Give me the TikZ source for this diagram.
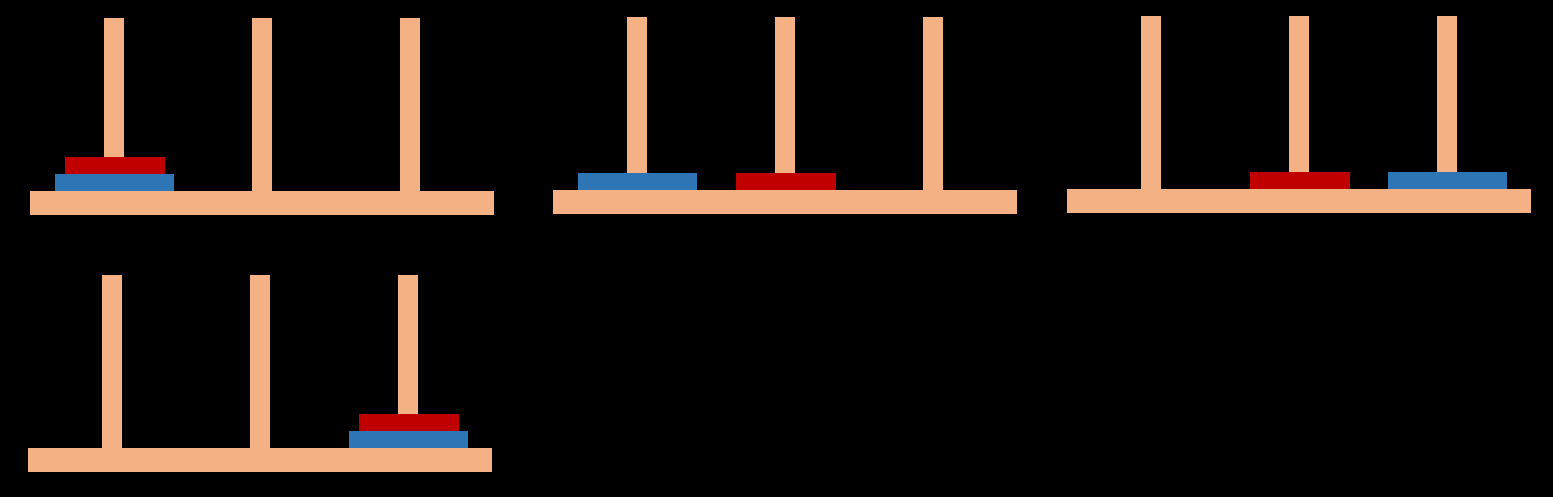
\documentclass[tikz,border=0pt]{standalone}
\definecolor{peach}{HTML}{F4B183}
\definecolor{diskred}{HTML}{C00000}
\definecolor{diskblue}{HTML}{2E75B6}
\tikzset{
  wood/.style={fill=peach},
  reddisk/.style={fill=diskred},
  bluedisk/.style={fill=diskblue}
}
\begin{document}
\begin{tikzpicture}[x=1pt,y=-1pt]
\fill[black] (0,0) rectangle (1553,497);
\useasboundingbox (0,0) rectangle (1553,497);
% Panel 1
\fill[wood] (104,18) rectangle (124,191);
\fill[wood] (252,18) rectangle (272,191);
\fill[wood] (400,18) rectangle (420,191);
\fill[wood] (30,191) rectangle (494,215);
\fill[bluedisk] (55,174) rectangle (174,191);
\fill[reddisk] (65,157) rectangle (165,174);
% Panel 2
\fill[wood] (627,17) rectangle (647,190);
\fill[wood] (775,17) rectangle (795,190);
\fill[wood] (923,17) rectangle (943,190);
\fill[wood] (553,190) rectangle (1017,214);
\fill[bluedisk] (578,173) rectangle (697,190);
\fill[reddisk] (736,173) rectangle (836,190);
% Panel 3
\fill[wood] (1141,16) rectangle (1161,189);
\fill[wood] (1289,16) rectangle (1309,189);
\fill[wood] (1437,16) rectangle (1457,189);
\fill[wood] (1067,189) rectangle (1531,213);
\fill[reddisk] (1250,172) rectangle (1350,189);
\fill[bluedisk] (1388,172) rectangle (1507,189);
% Panel 4
\fill[wood] (102,275) rectangle (122,448);
\fill[wood] (250,275) rectangle (270,448);
\fill[wood] (398,275) rectangle (418,448);
\fill[wood] (28,448) rectangle (492,472);
\fill[bluedisk] (349,431) rectangle (468,448);
\fill[reddisk] (359,414) rectangle (459,431);
\end{tikzpicture}
\end{document}
